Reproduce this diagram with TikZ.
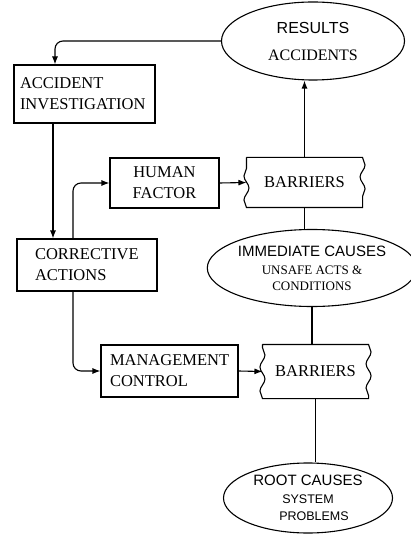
\documentclass[tikz,border=0pt]{standalone}
\usepackage{fontspec}
\setmainfont{Liberation Serif}
\newfontfamily\headsans{Liberation Sans}
\usetikzlibrary{arrows.meta,shapes.geometric,decorations.pathmorphing}
\newcommand{\boxtxt}{\fontsize{16.5}{21}\selectfont}

\begin{document}
\begin{tikzpicture}[
    x=1pt, y=-1pt,
    line width=1.1pt,
    >={Latex[length=8pt,width=6pt]},
    box/.style={draw, inner sep=0pt, font=\boxtxt},
    leftbox/.style={box, align=left},
    oval/.style={draw, ellipse, inner sep=0pt, align=center},
    barrier/.style={inner sep=0pt, font=\boxtxt},
    wavy/.style={decoration={snake, segment length=24pt, amplitude=2.5pt}},
    arrow/.style={->},
    link/.style={-}
]
\useasboundingbox (0,0) rectangle (411,534);

% ---- Outcome ellipses ----
\node[oval, minimum width=183pt, minimum height=78pt, font=\fontsize{16}{19}\selectfont] (results) at (313,41)
    {{\headsans RESULTS}\\[8pt]ACCIDENTS};
\node[oval, minimum width=183pt, minimum height=77pt, font=\fontsize{13}{16}\selectfont] (imm) at (312,268)
    {{\headsans\fontsize{15}{18}\selectfont IMMEDIATE CAUSES}\\[2pt]UNSAFE ACTS \&\\CONDITIONS};
\node[oval, minimum width=169pt, minimum height=70pt, font=\headsans\fontsize{12.5}{17}\selectfont] (root) at (308,498)
    {{\fontsize{15}{18}\selectfont ROOT CAUSES}\\[1pt]SYSTEM\hspace*{12pt}\\\hspace*{12pt}PROBLEMS};

% ---- Left column boxes ----
\node[leftbox, text width=129pt, inner xsep=6pt, minimum height=58pt] (accinv) at (84.5,94) {ACCIDENT\\INVESTIGATION};
\node[leftbox, text width=104pt, inner xsep=18pt, minimum height=52pt] (corract) at (87,265) {CORRECTIVE\\ACTIONS};

% ---- Control boxes ----
\node[box, align=center, minimum width=109pt, minimum height=50pt] (human) at (164.5,183) {HUMAN\\FACTOR};
\node[leftbox, text width=119pt, inner xsep=9pt, minimum height=52pt] (mgmt) at (169.5,371) {MANAGEMENT\\CONTROL};

% ---- Barriers ----
\node[barrier, minimum width=115pt, minimum height=49pt] (bar1) at (304.5,182.5) {BARRIERS};
\node[barrier, minimum width=105pt, minimum height=53pt] (bar2) at (315.5,371.5) {BARRIERS};
\foreach \b in {bar1,bar2}
    \draw[wavy] (\b.north west) -- (\b.north east) decorate {-- (\b.south east)}
        -- (\b.south west) decorate {-- (\b.north west)};

% ---- Feedback arrows ----
\draw[arrow, rounded corners=8pt] (results.west) -| ([xshift=-29.5pt]accinv.north);
\draw[arrow] ([xshift=-31.5pt]accinv.south) -- ([xshift=-31.5pt]accinv.south |- corract.north);
\draw[arrow, rounded corners=8pt] ([xshift=-14pt]corract.north) |- (human.west);
\draw[arrow, rounded corners=8pt] ([xshift=-14pt]corract.south) |- (mgmt.west);

% ---- Causal chain ----
\draw[arrow] (human.east) -- (bar1.west);
\draw[arrow] (mgmt.east) -- (bar2.west);
\draw[arrow] (bar1.north) -- (bar1.north |- results.south);
\draw[link] (bar1.south) -- (bar1.south |- imm.north);
\draw[link] (imm.south) -- (imm.south |- bar2.north);
\draw[link] (bar2.south) -- (bar2.south |- root.north);

\end{tikzpicture}
\end{document}
